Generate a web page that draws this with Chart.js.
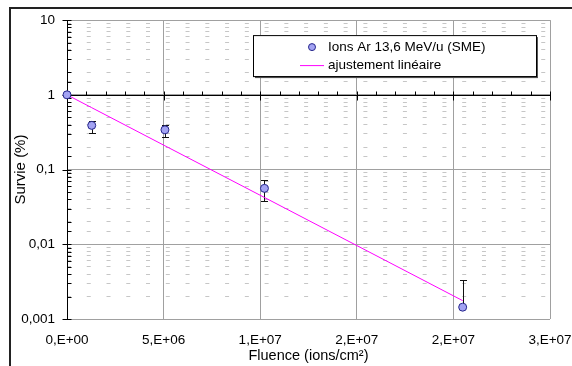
<!DOCTYPE html>
<html>
<head>
<meta charset="utf-8">
<script src="https://cdn.jsdelivr.net/npm/chart.js@4.4.1/dist/chart.umd.min.js"></script>
<style>
  html, body { margin: 0; padding: 0; background: #fff; }
  #wrap { position: relative; width: 572px; height: 366px; overflow: hidden; }
  #frame { position: absolute; left: 9px; top: 7px; right: -4px; bottom: -4px;
           border-left: 2px solid #222; border-top: 2px solid #222; }
  canvas { position: absolute; left: 0; top: 0; }
</style>
</head>
<body>
<div id="wrap">
  <div id="frame"></div>
  <canvas id="survie" width="572" height="366"></canvas>
</div>
<script>
// measured survival (%) vs fluence
const fluence = [0, 1.28e6, 5.07e6, 1.022e7, 2.048e7];
const survie = [1, 0.39, 0.34, 0.056, 0.00144];
const errHaut = [1, 0.446, 0.40, 0.072, 0.0033];
const errBas = [1, 0.313, 0.27, 0.0385, 0.00144];

// fitted line
const fitFluence = [0, 1.28e6, 5.07e6, 1.022e7, 2.048e7];
const fitSurvie = [1, 0.673, 0.208, 0.0423, 0.00176];

const xTickLabels = ["0,E+00", "5,E+06", "1,E+07", "2,E+07", "2,E+07", "3,E+07"];
const yTickValues = [0.001, 0.01, 0.1, 1, 10];
const yTickLabels = ["0,001", "0,01", "0,1", "1", "10"];

const legendLabels = ["Ions Ar 13,6 MeV/u (SME)", "ajustement linéaire"];

const FONT = "'Liberation Sans', Arial, sans-serif";
const markerFill = "#a3a3f3";
const markerLine = "#26268c";

function decadeIndex(v){
    return yTickValues.findIndex(t => Math.abs(t - v) / t < 1e-6);
}

const axesPlugin = {
    id: "axes",
    beforeDatasetsDraw(chart){
        const {ctx, chartArea: a, scales: {x, y}} = chart;
        ctx.save();
        ctx.strokeStyle = "#000";
        ctx.lineWidth = 1;

        // vertical axis at x = 0
        const x0 = Math.round(x.getPixelForValue(0)) + 0.5;
        ctx.beginPath();
        ctx.moveTo(x0, a.top); ctx.lineTo(x0, a.bottom);
        y.ticks.forEach(t => {
            const py = Math.round(y.getPixelForValue(t.value)) + 0.5;
            if (decadeIndex(t.value) >= 0){
                ctx.moveTo(x0 - 5, py); ctx.lineTo(x0 + 4, py);
            } else {
                ctx.moveTo(x0, py); ctx.lineTo(x0 + 4, py);
            }
        });
        ctx.stroke();

        // horizontal axis crossing at y = 1
        const y1 = Math.round(y.getPixelForValue(1)) + 0.5;
        ctx.beginPath();
        ctx.moveTo(a.left, y1); ctx.lineTo(a.right, y1);
        for (let v = x.min; v <= x.max + 1; v += 1e6){
            const px = Math.round(x.getPixelForValue(v)) + 0.5;
            if (v % 5e6 === 0){
                ctx.moveTo(px, y1 - 4); ctx.lineTo(px, y1 + 5);
            } else {
                ctx.moveTo(px, y1 - 4); ctx.lineTo(px, y1);
            }
        }
        ctx.stroke();

        // error bars
        ctx.strokeStyle = "#111";
        ctx.beginPath();
        fluence.forEach((f, i) => {
            const px = Math.round(x.getPixelForValue(f)) + 0.5;
            const top = Math.round(y.getPixelForValue(errHaut[i])) + 0.5;
            const bot = Math.round(y.getPixelForValue(errBas[i])) + 0.5;
            if (bot - top < 1) return;
            ctx.moveTo(px, top); ctx.lineTo(px, bot);
            ctx.moveTo(px - 3.5, top); ctx.lineTo(px + 3.5, top);
            if (errBas[i] < survie[i]){
                ctx.moveTo(px - 3.5, bot); ctx.lineTo(px + 3.5, bot);
            }
        });
        ctx.stroke();
        ctx.restore();
    },
    afterDraw(chart){
        const {ctx, chartArea: a} = chart;
        const L = a.left + 186, T = a.top + 15, W = 283, H = 41;
        ctx.save();
        ctx.fillStyle = "#555";
        ctx.fillRect(L + 2, T + 2, W, H);
        ctx.fillStyle = "#fff";
        ctx.fillRect(L, T, W, H);
        ctx.strokeStyle = "#000";
        ctx.lineWidth = 1;
        ctx.strokeRect(L + 0.5, T + 0.5, W, H);

        // entry 1: marker
        ctx.beginPath();
        ctx.arc(L + 59, T + 12, 3.5, 0, Math.PI * 2);
        ctx.fillStyle = markerFill; ctx.fill();
        ctx.strokeStyle = markerLine; ctx.stroke();
        // entry 2: line
        ctx.beginPath();
        ctx.moveTo(L + 47, T + 30.5); ctx.lineTo(L + 71, T + 30.5);
        ctx.strokeStyle = "#ff00ff"; ctx.stroke();

        ctx.fillStyle = "#000";
        ctx.font = "13.5px " + FONT;
        ctx.textBaseline = "middle";
        ctx.fillText(legendLabels[0], L + 75, T + 12);
        ctx.fillText(legendLabels[1], L + 75, T + 30);
        ctx.restore();
    }
};

new Chart(document.getElementById("survie"), {
    type: "scatter",
    data: {
        datasets: [{
            label: legendLabels[0],
            data: fluence.map((f, i) => ({x: f, y: survie[i]})),
            pointRadius: 4,
            pointBackgroundColor: markerFill,
            pointBorderColor: markerLine,
            pointBorderWidth: 1,
            showLine: false,
            clip: false
        }, {
            label: legendLabels[1],
            data: fitFluence.map((f, i) => ({x: f, y: fitSurvie[i]})),
            showLine: true,
            borderColor: "#ff00ff",
            borderWidth: 1,
            pointRadius: 0,
            tension: 0
        }]
    },
    options: {
        responsive: false,
        animation: false,
        events: [],
        layout: {padding: {left: 12, top: 20, right: 22, bottom: 0}},
        plugins: {legend: {display: false}, tooltip: {enabled: false}},
        scales: {
            x: {
                type: "linear",
                min: 0,
                max: 2.5e7,
                afterFit: s => { s.height = 47; s.paddingLeft = 0; s.paddingRight = 0; },
                ticks: {
                    stepSize: 5e6,
                    autoSkip: false,
                    maxRotation: 0,
                    padding: 13,
                    color: "#000",
                    font: {family: FONT, size: 13.5},
                    callback: (v, i) => xTickLabels[i]
                },
                grid: {color: "#a0a0a0", lineWidth: 1, drawTicks: false},
                border: {display: false},
                title: {
                    display: true,
                    text: "Fluence (ions/cm²)",
                    color: "#000",
                    font: {family: FONT, size: 14.5},
                    padding: {top: 0, bottom: 1}
                }
            },
            y: {
                type: "logarithmic",
                min: 0.001,
                max: 10,
                afterFit: s => { s.width = 55; },
                ticks: {
                    autoSkip: false,
                    padding: 12,
                    color: "#000",
                    font: {family: FONT, size: 13.5},
                    callback: v => {
                        const k = decadeIndex(v);
                        return k >= 0 ? yTickLabels[k] : "";
                    }
                },
                grid: {
                    drawTicks: false,
                    lineWidth: 1,
                    color: c => decadeIndex(c.tick.value) >= 0 ? "#a0a0a0" : "#c6c6c6"
                },
                border: {
                    display: false,
                    dash: c => (c.tick && decadeIndex(c.tick.value) < 0) ? [4, 15.76] : []
                },
                title: {
                    display: true,
                    text: "Survie (%)",
                    color: "#000",
                    font: {family: FONT, size: 15},
                    padding: {top: 0, bottom: 0}
                }
            }
        }
    },
    plugins: [axesPlugin]
});
</script>
</body>
</html>
